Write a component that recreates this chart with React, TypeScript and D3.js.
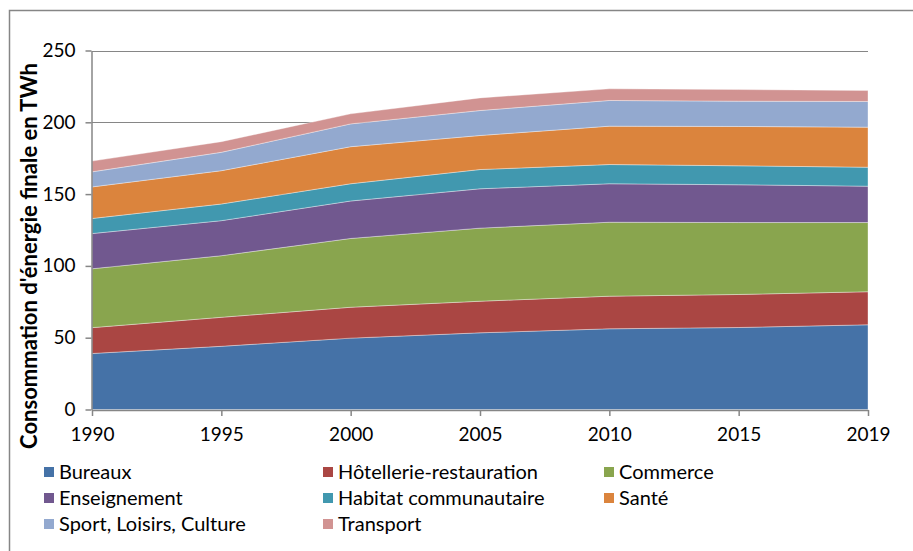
import { useEffect, useRef } from "react";
import * as d3 from "d3";

const years = ["1990", "1995", "2000", "2005", "2010", "2015", "2019"];
const yTicks = [0, 50, 100, 150, 200, 250];

const bureaux = [39, 44, 49.7, 53.4, 56.2, 57.1, 59];
const hotellerie = [18, 20.2, 21.5, 22, 22.7, 23, 23];
const commerce = [41, 42.9, 47.9, 50.9, 51.5, 50.1, 48.2];
const enseignement = [24.5, 24.4, 26.1, 27.4, 26.8, 26.3, 25.3];
const habitat = [10.5, 11.6, 12, 13.4, 13.4, 13.2, 13.2];
const sante = [22, 23.2, 25.8, 23.7, 26.7, 27.4, 27.9];
const sport = [10.5, 12.8, 15.9, 17.4, 17.9, 17.6, 17.9];
const transport = [7.5, 7.4, 7, 8.8, 8.1, 8.1, 7.6];

const seriesNames = [
  "Bureaux",
  "Hôtellerie-restauration",
  "Commerce",
  "Enseignement",
  "Habitat communautaire",
  "Santé",
  "Sport, Loisirs, Culture",
  "Transport",
];
const seriesValues = [bureaux, hotellerie, commerce, enseignement, habitat, sante, sport, transport];
const colors = ["#4572A7", "#AA4643", "#89A54E", "#71588F", "#4198AF", "#DB843D", "#93A9CF", "#D19392"];

const FONT = "Lato, 'Noto Sans', sans-serif";

export default function App() {
  const svgRef = useRef<SVGSVGElement | null>(null);

  useEffect(() => {
    const svgEl = svgRef.current;
    if (!svgEl) return;
    const svg = d3.select(svgEl);
    svg.selectAll("*").remove();

    const plot = { left: 92, right: 868, top: 50.5, bottom: 409.5 };

    const x = d3.scalePoint<string>().domain(years).range([plot.left, plot.right]);
    const y = d3.scaleLinear().domain([0, 250]).range([plot.bottom, plot.top]);

    // chart border
    svg.append("rect")
      .attr("x", 9.5)
      .attr("y", 10.5)
      .attr("width", 930)
      .attr("height", 560)
      .attr("fill", "#fff")
      .attr("stroke", "#868686")
      .attr("stroke-width", 1.5);

    // gridlines
    svg.append("g")
      .selectAll("line")
      .data(yTicks.filter((t) => t > 0))
      .join("line")
      .attr("x1", plot.left)
      .attr("x2", plot.right)
      .attr("y1", (d) => Math.round(y(d)) + 0.5)
      .attr("y2", (d) => Math.round(y(d)) + 0.5)
      .attr("stroke", "#868686")
      .attr("stroke-width", 1);

    const table = years.map((yr, i) => {
      const row: Record<string, number | string> = { year: yr };
      seriesNames.forEach((name, j) => (row[name] = seriesValues[j][i]));
      return row;
    });

    const stacked = d3.stack<any>().keys(seriesNames)(table as any);

    const area = d3.area<any>()
      .x((d) => x(d.data.year)!)
      .y0((d) => y(d[0]))
      .y1((d) => y(d[1]));

    svg.append("g")
      .selectAll("path")
      .data(stacked)
      .join("path")
      .attr("d", area)
      .attr("fill", (_, i) => colors[i])
      .attr("stroke", "#ffffff")
      .attr("stroke-opacity", 0.45)
      .attr("stroke-width", 0.8);

    // y axis
    const yAxis = svg.append("g")
      .attr("transform", `translate(${plot.left - 0.5},0)`)
      .call(d3.axisLeft(y).tickValues(yTicks).tickSize(6).tickSizeOuter(0).tickPadding(10));
    yAxis.select(".domain").attr("stroke", "#868686").attr("stroke-width", 1.5);
    yAxis.selectAll(".tick line").attr("stroke", "#868686").attr("stroke-width", 1.5);
    yAxis.selectAll(".tick text")
      .attr("font-family", FONT)
      .attr("font-size", 19)
      .attr("fill", "#000");

    // x axis
    const xAxis = svg.append("g")
      .attr("transform", `translate(0,${plot.bottom + 0.5})`)
      .call(d3.axisBottom(x).tickSize(6).tickSizeOuter(0).tickPadding(12));
    xAxis.select(".domain").attr("stroke", "#868686").attr("stroke-width", 1.5);
    xAxis.selectAll(".tick line").attr("stroke", "#868686").attr("stroke-width", 1.5);
    xAxis.selectAll(".tick text")
      .attr("font-family", FONT)
      .attr("font-size", 19)
      .attr("fill", "#000");

    // y title
    svg.append("text")
      .attr("transform", `translate(37,256) rotate(-90)`)
      .attr("text-anchor", "middle")
      .attr("font-family", FONT)
      .attr("font-weight", "bold")
      .attr("font-size", 22)
      .attr("fill", "#000")
      .text("Consommation d'énergie finale en TWh");

    // legend
    const colX = [44, 323, 604];
    const rowY = [472, 498, 524];
    const legend = svg.append("g")
      .selectAll("g")
      .data(seriesNames)
      .join("g")
      .attr("transform", (_, i) => `translate(${colX[i % 3]},${rowY[Math.floor(i / 3)]})`);
    legend.append("rect")
      .attr("x", 0)
      .attr("y", -5)
      .attr("width", 10)
      .attr("height", 10)
      .attr("fill", (_, i) => colors[i]);
    legend.append("text")
      .attr("x", 15)
      .attr("y", 0)
      .attr("dy", "0.36em")
      .attr("font-family", FONT)
      .attr("font-size", 20)
      .attr("fill", "#000")
      .text((d) => d);
  }, []);

  return (
    <svg
      ref={svgRef}
      width={913}
      height={551}
      style={{ position: "absolute", left: 0, top: 0, background: "#fff" }}
    />
  );
}
